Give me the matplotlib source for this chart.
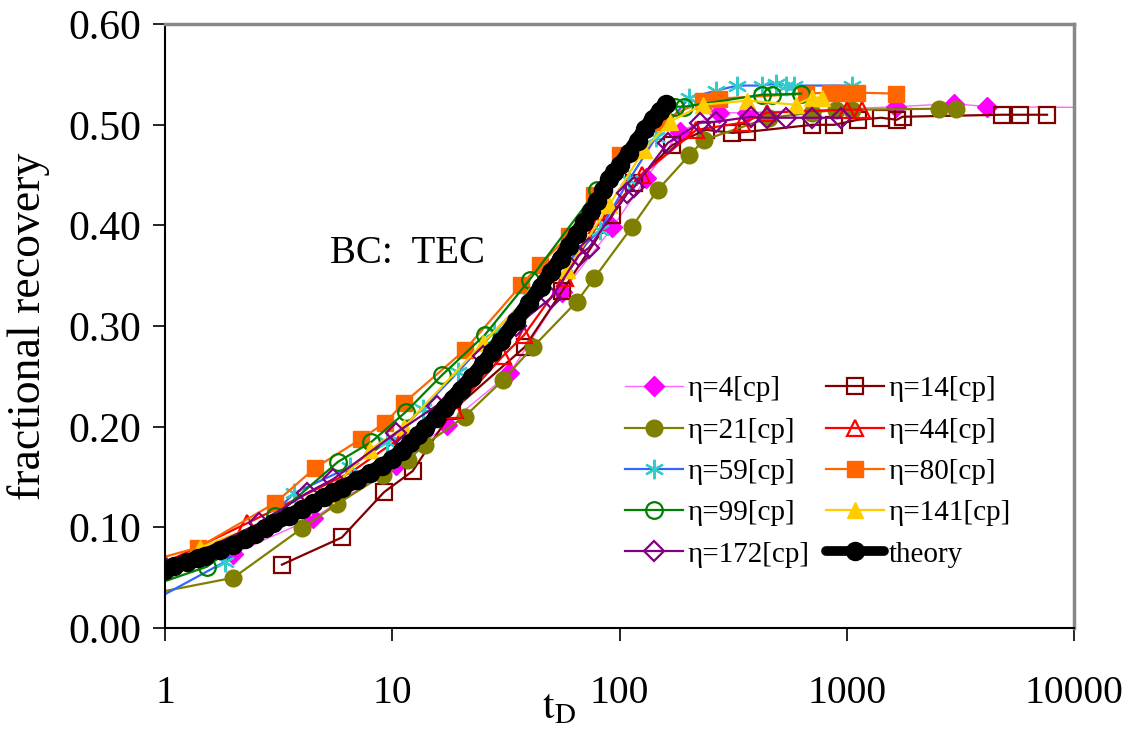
import matplotlib
matplotlib.use("Agg")
import matplotlib.pyplot as plt

plt.rcParams['font.family'] = ['Liberation Serif', 'DejaVu Serif']
plt.rcParams['mathtext.fontset'] = 'stix'

# eta = 4 cp
t_4 = [1.0, 2.0, 4.47, 10.4, 17.4, 32.8, 56, 93, 131, 184, 275, 365, 1650, 2970, 4150, 15000]
r_4 = [0.058, 0.074, 0.109, 0.162, 0.202, 0.253, 0.334, 0.398, 0.447, 0.493, 0.512, 0.512, 0.518, 0.521, 0.518, 0.517]
# eta = 14 cp
t_14 = [3.27, 6.0, 9.2, 12.3, 18.4, 38.2, 56, 93, 116, 171, 240, 314, 365, 706, 880, 1120, 1420, 1660, 1760, 4830, 5800, 7610]
r_14 = [0.063, 0.090, 0.135, 0.156, 0.216, 0.279, 0.335, 0.41, 0.442, 0.48, 0.495, 0.492, 0.493, 0.500, 0.500, 0.505, 0.507, 0.505, 0.508, 0.510, 0.510, 0.510]
# eta = 21 cp
t_21 = [0.7, 2.0, 4.0, 5.7, 9.1, 11.7, 13.9, 20.8, 30.6, 41.5, 64.7, 77.6, 113, 147, 203, 236, 456, 705, 899, 1057, 2553, 3030]
r_21 = [0.030, 0.050, 0.099, 0.123, 0.152, 0.167, 0.182, 0.210, 0.246, 0.279, 0.324, 0.348, 0.398, 0.435, 0.470, 0.485, 0.507, 0.512, 0.515, 0.515, 0.516, 0.516]
# eta = 44 cp
t_44 = [1.0, 2.29, 6.6, 11, 18.8, 30.6, 38, 57.5, 80, 125, 218, 347, 447, 1000, 1170]
r_44 = [0.065, 0.104, 0.155, 0.19, 0.217, 0.27, 0.291, 0.348, 0.40, 0.45, 0.495, 0.502, 0.512, 0.515, 0.515]
# eta = 59 cp
t_59 = [0.9, 1.84, 3.7, 6.5, 9.5, 13.6, 19.4, 28, 40, 57, 81.7, 110, 145, 203, 267, 330, 425, 490, 540, 588, 1050]
r_59 = [0.028, 0.066, 0.134, 0.16, 0.185, 0.218, 0.254, 0.294, 0.33, 0.36, 0.395, 0.445, 0.488, 0.527, 0.534, 0.539, 0.539, 0.541, 0.539, 0.539, 0.539]
# eta = 80 cp
t_80 = [0.9, 1.40, 3.04, 4.57, 7.3, 9.3, 11.3, 20.8, 37, 44.5, 60, 77, 100, 150, 232, 275, 663, 840, 955, 1110, 1650]
r_80 = [0.068, 0.080, 0.124, 0.159, 0.188, 0.204, 0.224, 0.276, 0.341, 0.361, 0.39, 0.43, 0.47, 0.503, 0.524, 0.526, 0.531, 0.532, 0.532, 0.532, 0.531]
# eta = 99 cp
t_99 = [0.9, 1.53, 3.05, 5.76, 8.1, 11.5, 16.5, 25.5, 40.2, 79.4, 175, 193, 425, 470, 630]
r_99 = [0.043, 0.061, 0.111, 0.165, 0.185, 0.215, 0.251, 0.291, 0.346, 0.435, 0.518, 0.518, 0.530, 0.530, 0.531]
# eta = 141 cp
t_141 = [1.0, 1.43, 4.05, 5.1, 7.97, 11.3, 25, 40, 59, 90, 128, 166, 232, 365, 595, 700, 780]
r_141 = [0.060, 0.080, 0.120, 0.132, 0.177, 0.200, 0.283, 0.33, 0.356, 0.42, 0.475, 0.503, 0.520, 0.524, 0.520, 0.527, 0.527]
# eta = 172 cp
t_172 = [1.0, 2.6, 4.2, 5.5, 10.4, 15.7, 25, 35, 50, 66, 73.5, 108, 116, 163, 226, 265, 380, 445, 540, 705, 945]
r_172 = [0.060, 0.104, 0.134, 0.148, 0.194, 0.221, 0.27, 0.30, 0.328, 0.37, 0.378, 0.432, 0.438, 0.482, 0.502, 0.503, 0.508, 0.507, 0.507, 0.507, 0.507]
# theory
t_th = [1, 1.1, 1.25, 1.4, 1.5, 1.75, 2, 2.25, 2.5, 2.75, 3, 3.5, 4, 4.5, 5, 5.5, 6, 7, 8, 9, 10,
        11, 12, 13, 14, 15.5, 17, 18.5, 20, 22.5, 25, 27.5, 30, 35, 40, 45,
        50, 55, 60, 65, 70, 75, 80, 85, 90, 95, 100, 110, 120, 130, 140, 150, 160]
r_th = [0.058, 0.062, 0.066, 0.070, 0.072, 0.078, 0.083, 0.088, 0.093, 0.099, 0.104, 0.111,
        0.118, 0.124, 0.130, 0.135, 0.139, 0.147, 0.154, 0.161, 0.168,
        0.176, 0.184, 0.192, 0.199, 0.209, 0.219, 0.228, 0.237, 0.249, 0.262, 0.274, 0.285,
        0.305, 0.323, 0.339, 0.354, 0.367, 0.380, 0.392, 0.403, 0.414, 0.424, 0.435,
        0.446, 0.453, 0.460, 0.472, 0.484, 0.496, 0.506, 0.514, 0.521]

fig = plt.figure(figsize=(11.27, 7.32), dpi=100)
ax = fig.add_axes([0.1464, 0.142, 0.8066, 0.825])

ms = 12
mew = 1.6
h = {}
h[4] = ax.plot(t_4, r_4, color='#FF66FF', lw=1.0, marker='D', ms=10, mfc='#FF00FF', mec='#FF00FF', label='η=4[cp]')[0]
h[14] = ax.plot(t_14, r_14, color='#800000', lw=1.6, marker='s', ms=ms, mfc='none', mec='#800000', mew=mew, label='η=14[cp]')[0]
h[21] = ax.plot(t_21, r_21, color='#808000', lw=1.6, marker='o', ms=ms, mfc='#808000', mec='#808000', label='η=21[cp]')[0]
h[44] = ax.plot(t_44, r_44, color='#FF0000', lw=1.6, marker='^', ms=ms, mfc='none', mec='#FF0000', mew=mew, label='η=44[cp]')[0]
h[59] = ax.plot(t_59, r_59, color='#3366FF', lw=1.6, marker=(6, 2, 0), ms=ms + 2, mfc='#33CCCC', mec='#33CCCC', mew=mew, label='η=59[cp]')[0]
h[80] = ax.plot(t_80, r_80, color='#FF6600', lw=1.6, marker='s', ms=ms, mfc='#FF6600', mec='#FF6600', label='η=80[cp]')[0]
h[99] = ax.plot(t_99, r_99, color='#008000', lw=1.6, marker='o', ms=ms, mfc='none', mec='#008000', mew=mew, label='η=99[cp]')[0]
h[141] = ax.plot(t_141, r_141, color='#FFCC00', lw=1.6, marker='^', ms=ms, mfc='#FFCC00', mec='#FFCC00', label='η=141[cp]')[0]
h[172] = ax.plot(t_172, r_172, color='#800080', lw=1.6, marker='D', ms=10, mfc='none', mec='#800080', mew=mew, label='η=172[cp]')[0]
h['th'] = ax.plot(t_th, r_th, color='black', lw=11, marker='o', ms=13, mfc='black', mec='black',
                  solid_capstyle='round', label='theory', zorder=5)[0]

ax.set_xscale('log')
ax.set_xlim(1, 10000)
ax.set_ylim(0, 0.6)
ax.set_xticks([1, 10, 100, 1000, 10000])
ax.set_xticklabels(['1', '10', '100', '1000', '10000'])
ax.xaxis.set_minor_locator(matplotlib.ticker.NullLocator())
ax.set_yticks([0, 0.1, 0.2, 0.3, 0.4, 0.5, 0.6])
ax.set_yticklabels(['%.2f' % v for v in [0, 0.1, 0.2, 0.3, 0.4, 0.5, 0.6]])
ax.tick_params(axis='x', direction='out', length=9, width=1.2, labelsize=28.5, pad=25)
ax.tick_params(axis='y', direction='out', length=9, width=1.2, labelsize=30, pad=8)

for s in ['left', 'bottom']:
    ax.spines[s].set_color('black')
    ax.spines[s].set_linewidth(1.5)
for s in ['top', 'right']:
    ax.spines[s].set_color('#888888')
    ax.spines[s].set_linewidth(2.5)

ax.set_ylabel('fractional recovery', fontsize=33)
ax.yaxis.set_label_coords(-0.127, 0.5)
ax.set_xlabel(r'$\mathrm{t_D}$', fontsize=30)
ax.xaxis.set_label_coords(0.433, -0.1)

ax.text(5.3, 0.372, 'BC:  TEC', fontsize=28, ha='left', va='center')

order = [4, 21, 59, 99, 172, 14, 44, 80, 141, 'th']
leg = ax.legend([h[k] for k in order], [h[k].get_label() for k in order], ncol=2,
                loc='lower left', bbox_to_anchor=(0.506, 0.10), frameon=False, fontsize=21,
                handlelength=2.0, handletextpad=0.15, columnspacing=0.55, labelspacing=0.51,
                borderaxespad=0, borderpad=0)
leg.get_lines()[-1].set_linewidth(7)

fig.savefig('out.png', dpi=100)
